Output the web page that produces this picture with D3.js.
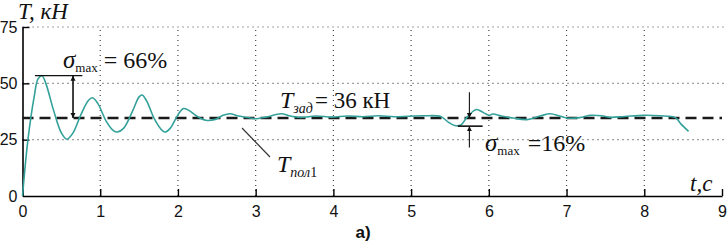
<!DOCTYPE html>
<html lang="ru">
<head>
<meta charset="UTF-8">
<title>T(t) transient</title>
<script src="https://d3js.org/d3.v7.min.js"></script>
<style>
    body { margin: 0; background: #fff; }
    svg { display: block; background: #fff; }
    .tick text { font-family: "Liberation Sans", Arial, sans-serif; font-size: 16px; fill: #111; }
    .serif { font-family: "Liberation Serif", "Times New Roman", serif; fill: #111; }
</style>
</head>
<body>
<svg width="727" height="242"></svg>
<script>
    const width = 727;
    const height = 242;

    // time (s) and tension (kN)
    const times = [0, 0.07, 0.15, 0.2, 0.25, 0.3, 0.4, 0.5, 0.57, 0.65, 0.75, 0.85, 0.9, 0.97,
        1.08, 1.17, 1.22, 1.3, 1.42, 1.5, 1.54, 1.6, 1.7, 1.8, 1.84, 1.9, 2.0, 2.07, 2.14, 2.24,
        2.36, 2.48, 2.58, 2.67, 2.78, 2.93, 2.99, 3.13, 3.33, 3.43, 3.58, 3.78, 3.98, 4.18, 4.38,
        4.58, 4.78, 4.97, 5.17, 5.38, 5.47, 5.56, 5.64, 5.72, 5.84, 5.93, 6.01, 6.05, 6.16, 6.31,
        6.49, 6.66, 6.79, 6.91, 7.0, 7.17, 7.3, 7.45, 7.56, 7.75, 7.99, 8.2, 8.4, 8.47, 8.57];
    const tension = [0, 25, 44, 52, 53.4, 50, 38, 28, 25.2, 28, 36, 42.5, 43.6, 41,
        33, 29, 28.4, 30, 38, 44, 44.8, 42, 34, 29, 28.4, 30, 36, 38.8, 38, 35.5,
        33.6, 34, 35.8, 36.5, 35.5, 34.6, 34.3, 35, 36.5, 35.6, 34.9, 35.5, 35.0, 35.5, 35.2,
        35.6, 35.2, 35.4, 35.6, 35.3, 33, 31.3, 31.5, 35, 38.4, 37, 35.8, 36.4, 35.5, 34.6,
        33.9, 35.5, 36.5, 35.5, 34.6, 34.8, 35.8, 35.6, 34.9, 35.3, 35.8, 35.6, 34.8, 32, 28.7];
    const setpoint = 34.6;   // dashed reference level (T_зад)

    const xTicks = [0, 1, 2, 3, 4, 5, 6, 7, 8, 9];
    const yTicks = [0, 25, 50, 75];
    const xGrid = [1, 2, 3, 4, 5, 6, 7, 8];
    const yGrid = [25, 50, 75];

    const x = d3.scaleLinear().domain([0, 9]).range([22.5, 722]);
    const y = d3.scaleLinear().domain([0, 75]).range([196, 27]);

    const svg = d3.select("svg").attr("width", width).attr("height", height);

    // dotted grid
    const grid = svg.append("g").attr("stroke", "#444").attr("stroke-width", 1.2)
        .attr("stroke-dasharray", "1,4");
    grid.selectAll("line.v").data(xGrid).join("line").attr("class", "v")
        .attr("x1", d => x(d)).attr("x2", d => x(d))
        .attr("y1", y(0)).attr("y2", y(75));
    grid.selectAll("line.h").data(yGrid).join("line").attr("class", "h")
        .attr("x1", x(0)).attr("x2", x(9) + 3)
        .attr("y1", d => y(d)).attr("y2", d => y(d));

    // axes
    const xAxis = svg.append("g").attr("transform", `translate(0,${y(0)})`)
        .call(d3.axisBottom(x).tickValues(xTicks).tickFormat(d3.format("d"))
            .tickSize(-7).tickSizeOuter(0).tickPadding(10));
    const yAxis = svg.append("g").attr("transform", `translate(${x(0)},0)`)
        .call(d3.axisLeft(y).tickValues(yTicks).tickFormat(d3.format("d"))
            .tickSize(-7).tickSizeOuter(0).tickPadding(5));
    [xAxis, yAxis].forEach(a => {
        a.select(".domain").attr("stroke", "#000").attr("stroke-width", 1.6);
        a.selectAll(".tick line").attr("stroke", "#000").attr("stroke-width", 1.4);
    });
    yAxis.selectAll(".tick").filter(d => d === 0).select("line").remove();

    // set-point dashed line
    svg.append("line")
        .attr("x1", x(0)).attr("x2", x(9))
        .attr("y1", y(setpoint)).attr("y2", y(setpoint))
        .attr("stroke", "#1a1a1a").attr("stroke-width", 2.4)
        .attr("stroke-dasharray", "11,6");

    // signal
    const points = times.map((t, i) => [t, tension[i]]);
    svg.append("path")
        .datum(points)
        .attr("fill", "none")
        .attr("stroke", "#33a19a")
        .attr("stroke-width", 1.6)
        .attr("d", d3.line().x(d => x(d[0])).y(d => y(d[1])).curve(d3.curveCatmullRom.alpha(0.5)));

    // arrow markers
    const defs = svg.append("defs");
    defs.append("marker").attr("id", "ah").attr("viewBox", "0 0 10 10")
        .attr("refX", 10).attr("refY", 5).attr("markerWidth", 5).attr("markerHeight", 7)
        .attr("markerUnits", "userSpaceOnUse").attr("orient", "auto")
        .append("path").attr("d", "M0,0 L10,5 L0,10 Z").attr("fill", "#111");

    const ann = svg.append("g").attr("stroke", "#111").attr("stroke-width", 1.1);

    // first overshoot annotation
    ann.append("line").attr("x1", x(0.16)).attr("x2", x(0.77))
        .attr("y1", y(53.4)).attr("y2", y(53.4)).attr("stroke-width", 1.4);
    ann.append("line").attr("x1", x(0.65)).attr("x2", x(0.65))
        .attr("y1", y(setpoint)).attr("y2", y(53.4))
        .attr("marker-end", "url(#ah)");
    ann.append("line").attr("x1", x(0.65)).attr("x2", x(0.65))
        .attr("y1", y(53.4)).attr("y2", y(setpoint))
        .attr("marker-end", "url(#ah)");

    // second overshoot annotation
    ann.append("line").attr("x1", x(5.6)).attr("x2", x(5.92))
        .attr("y1", y(31.0)).attr("y2", y(31.0)).attr("stroke-width", 1.6);
    ann.append("line").attr("x1", x(5.75)).attr("x2", x(5.75))
        .attr("y1", y(46)).attr("y2", y(setpoint)).attr("marker-end", "url(#ah)");
    ann.append("line").attr("x1", x(5.75)).attr("x2", x(5.75))
        .attr("y1", y(21.5)).attr("y2", y(31.0)).attr("marker-end", "url(#ah)");

    // leader to T_пол1
    ann.append("line").attr("x1", 242).attr("y1", 128).attr("x2", 270).attr("y2", 157)
        .attr("stroke", "#333");

    // texts
    function richLabel(px, py, parts) {
        const t = svg.append("text").attr("class", "serif").attr("x", px).attr("y", py);
        parts.forEach(p => {
            const s = t.append("tspan").text(p.text)
                .attr("font-size", p.size)
                .attr("font-style", p.italic ? "italic" : "normal");
            if (p.dy) s.attr("dy", p.dy);
            if (p.dx) s.attr("dx", p.dx);
        });
        return t;
    }

    richLabel(18, 19, [{ text: "T, кН", size: 23, italic: true }]);
    richLabel(690, 191, [{ text: "t,c", size: 23, italic: true }]);

    richLabel(63, 68, [
        { text: "σ", size: 25, italic: true },
        { text: "max", size: 13, dy: 4 },
        { text: "= 66%", size: 24, dy: -4, dx: 6 }
    ]);

    richLabel(280, 108, [
        { text: "T", size: 24, italic: true },
        { text: "зад", size: 14, italic: true, dy: 5 },
        { text: "= 36 кН", size: 23, dy: -5, dx: 2 }
    ]);

    richLabel(277, 172, [
        { text: "T", size: 24, italic: true },
        { text: "пол", size: 14, italic: true, dy: 5 },
        { text: "1", size: 14 }
    ]);

    richLabel(485, 151, [
        { text: "σ", size: 25, italic: true },
        { text: "max", size: 13, dy: 4 },
        { text: "=16%", size: 24, dy: -4, dx: 8 }
    ]);

    svg.append("text")
        .attr("x", 363).attr("y", 238)
        .attr("text-anchor", "middle")
        .attr("font-family", "Liberation Sans, Arial, sans-serif")
        .attr("font-weight", "bold").attr("font-size", 17)
        .attr("fill", "#111")
        .text("a)");
</script>
</body>
</html>
